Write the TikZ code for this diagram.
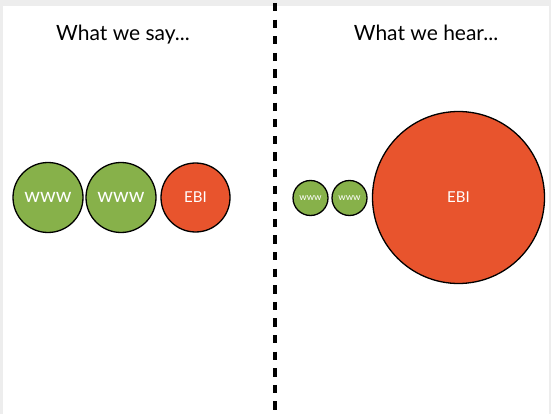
\documentclass[tikz,border=0pt]{standalone}
\usepackage{fontspec}
\setmainfont{Lato}
\usetikzlibrary{positioning}
\definecolor{webgreen}{HTML}{87B14A}
\definecolor{ebired}{HTML}{E8542D}
\definecolor{framegray}{HTML}{EDEDED}

\begin{document}
\begin{tikzpicture}[
    x=1pt, y=-1pt,
    every node/.style={inner sep=0pt},
    title/.style={font=\fontsize{21}{24}\selectfont, anchor=base},
    blob/.style={circle, draw=black, line width=1.3pt, text=white},
    www/.style={blob, fill=webgreen},
    ebi/.style={blob, fill=ebired},
    sep/.style={line width=4pt, dash pattern=on 8.3pt off 8.3pt}
]
    % frame and page
    \fill[framegray] (0,0) rectangle (551,414);
    \fill[white] (3,6) rectangle (549,414);
    \useasboundingbox (0,0) rectangle (551,414);

    % titles
    \node[title] (say)  at (123, 41) {What we say...};
    \node[title] (hear) at (426, 41) {What we hear...};

    % divider
    \coordinate (top) at (274.5, 3);
    \coordinate (bot) at (274.5, 414);
    \draw[sep] (top) -- (bot);

    % what we say
    \node[www, minimum size=70pt, font=\fontsize{20}{20}\selectfont] (w1) at (48, 197.5) {www};
    \node[www, minimum size=70pt, font=\fontsize{20}{20}\selectfont] (w2) at (121, 197.5) {www};
    \node[ebi, minimum size=69pt, font=\fontsize{15}{15}\selectfont] (e1) at (195.5, 197.5) {EBI};

    % what we hear
    \node[www, minimum size=35pt, font=\fontsize{9.5}{10}\selectfont] (w3) at (310.5, 198) {www};
    \node[www, minimum size=35pt, font=\fontsize{9.5}{10}\selectfont] (w4) at (349.5, 198) {www};
    \node[ebi, minimum size=172pt, font=\fontsize{15}{15}\selectfont] (e2) at (458.5, 197.5) {EBI};
\end{tikzpicture}
\end{document}
